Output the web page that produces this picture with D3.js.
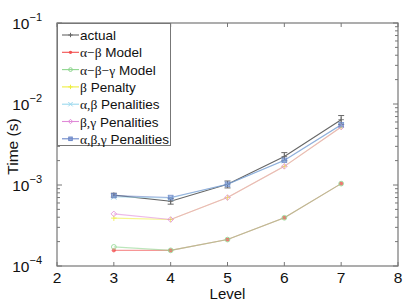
<!DOCTYPE html>
<meta charset="utf-8">
<title>Time vs Level</title>
<script src="https://d3js.org/d3.v7.min.js"></script>
<body style="margin:0; background:#fff;">
<div id="chart"></div>
</body>
<script>
levels = [3, 4, 5, 6, 7]
actual = [7.5e-4, 6.3e-4, 1.02e-3, 2.25e-3, 6.4e-3]
actualErr = [4e-5, 5e-5, 1.0e-4, 2.6e-4, 8e-4]
abModel = [1.56e-4, 1.56e-4, 2.12e-4, 3.94e-4, 1.04e-3]
abgModel = [1.72e-4, 1.56e-4, 2.12e-4, 3.94e-4, 1.04e-3]
bPenalty = [3.9e-4, 3.75e-4, 7.0e-4, 1.7e-3, 5.2e-3]
abPen = [7.1e-4, 6.9e-4, 1.02e-3, 2.0e-3, 5.5e-3]
bgPen = [4.4e-4, 3.75e-4, 7.0e-4, 1.7e-3, 5.2e-3]
abgPen = [7.4e-4, 7.0e-4, 1.02e-3, 2.02e-3, 5.55e-3]

// legend labels, split into [greek part, plain part]
names = [["", "actual"], ["\u03b1\u2212\u03b2", " Model"], ["\u03b1\u2212\u03b2\u2212\u03b3", " Model"],
         ["\u03b2", " Penalty"], ["\u03b1,\u03b2", " Penalities"], ["\u03b2,\u03b3", " Penalities"],
         ["\u03b1,\u03b2,\u03b3", " Penalities"]]
colors = ["#666666", "#f25050", "#8fd68f", "#eeee40", "#9ad8ee", "#e08ad8", "#6a86c8"]
markers = ["plus", "star", "circle", "plus", "cross", "diamond", "square"]
values = [actual, abModel, abgModel, bPenalty, abPen, bgPen, abgPen]

width = 416
height = 302
margin = {left: 57, right: 18, top: 23, bottom: 36}

x = d3.scaleLinear().domain([2, 8]).range([margin.left, width - margin.right])
y = d3.scaleLog().domain([1e-4, 1e-1]).range([height - margin.bottom, margin.top])

svg = d3.select("#chart").append("svg")
    .attr("width", width).attr("height", height)
    .style("font-family", "Liberation Sans, Arial, sans-serif")

axisColor = "#777"

// ticks
xt = [2, 3, 4, 5, 6, 7, 8]
g = svg.append("g").attr("stroke", axisColor).attr("stroke-width", 1)
xt.forEach(t => {
  g.append("line").attr("x1", x(t)).attr("x2", x(t))
    .attr("y1", y(1e-4)).attr("y2", y(1e-4) - 4)
  g.append("line").attr("x1", x(t)).attr("x2", x(t))
    .attr("y1", y(1e-1)).attr("y2", y(1e-1) + 4)
})
majors = [1e-4, 1e-3, 1e-2, 1e-1]
minors = []
for (let d = 1e-4; d < 1e-1; d *= 10) for (let k = 2; k <= 9; k++) minors.push(d * k)
majors.forEach(t => {
  g.append("line").attr("x1", x(2)).attr("x2", x(2) + 5).attr("y1", y(t)).attr("y2", y(t))
  g.append("line").attr("x1", x(8)).attr("x2", x(8) - 5).attr("y1", y(t)).attr("y2", y(t))
})
minors.forEach(t => {
  g.append("line").attr("x1", x(2)).attr("x2", x(2) + 3).attr("y1", y(t)).attr("y2", y(t))
  g.append("line").attr("x1", x(8)).attr("x2", x(8) - 3).attr("y1", y(t)).attr("y2", y(t))
})

svg.append("rect")
    .attr("x", x(2)).attr("y", y(1e-1))
    .attr("width", x(8) - x(2)).attr("height", y(1e-4) - y(1e-1))
    .attr("fill", "none").attr("stroke", axisColor).attr("stroke-width", 1.2)

// tick labels
svg.append("g").selectAll("text").data(xt).join("text")
    .attr("x", d => x(d)).attr("y", y(1e-4) + 17)
    .attr("text-anchor", "middle").attr("font-size", 15.5).attr("fill", "#111")
    .text(d => d)

yl = svg.append("g").selectAll("text").data(majors).join("text")
    .attr("x", x(2) - 15).attr("y", d => y(d) + 6)
    .attr("text-anchor", "end").attr("font-size", 15.5).attr("fill", "#111")
yl.append("tspan").text("10")
yl.append("tspan").attr("dy", -8).attr("font-size", 11).text(d => "\u2212" + Math.round(-Math.log10(d)))

svg.append("text")
    .attr("x", (x(2) + x(8)) / 2).attr("y", height - 3)
    .attr("text-anchor", "middle").attr("font-size", 15).attr("fill", "#111")
    .text("Level")
svg.append("text")
    .attr("transform", `translate(18,${(y(1e-4) + y(1e-1)) / 2 + 2}) rotate(-90)`)
    .attr("text-anchor", "middle").attr("font-size", 15.5).attr("fill", "#111")
    .text("Time (s)")

function drawMarker(sel, type, color, s) {
  if (type == "plus") {
    sel.append("path").attr("d", `M${-s},0H${s}M0,${-s}V${s}`).attr("stroke", color).attr("fill", "none")
  } else if (type == "cross") {
    sel.append("path").attr("d", `M${-s},${-s}L${s},${s}M${-s},${s}L${s},${-s}`).attr("stroke", color).attr("fill", "none")
  } else if (type == "star") {
    sel.append("circle").attr("r", s * 0.75).attr("fill", color)
  } else if (type == "circle") {
    sel.append("circle").attr("r", s * 0.85).attr("fill", "none").attr("stroke", color)
  } else if (type == "diamond") {
    sel.append("path").attr("d", `M0,${-s}L${s},0L0,${s}L${-s},0Z`).attr("fill", "none").attr("stroke", color)
  } else if (type == "square") {
    sel.append("rect").attr("x", -s * 0.8).attr("y", -s * 0.8).attr("width", s * 1.6).attr("height", s * 1.6)
      .attr("fill", color).attr("fill-opacity", 0.6).attr("stroke", color)
  }
}

line = d3.line().x((d, i) => x(levels[i])).y(d => y(d))

plot = svg.append("g")
// error bars for actual
eb = plot.append("g").attr("stroke", colors[0]).attr("stroke-width", 1)
levels.forEach((l, i) => {
  let lo = y(actual[i] - actualErr[i]), hi = y(actual[i] + actualErr[i])
  eb.append("line").attr("x1", x(l)).attr("x2", x(l)).attr("y1", lo).attr("y2", hi)
  eb.append("line").attr("x1", x(l) - 3).attr("x2", x(l) + 3).attr("y1", lo).attr("y2", lo)
  eb.append("line").attr("x1", x(l) - 3).attr("x2", x(l) + 3).attr("y1", hi).attr("y2", hi)
})

values.forEach((v, k) => {
  plot.append("path").attr("d", line(v))
      .attr("fill", "none").attr("stroke", colors[k]).attr("stroke-width", 1.1)
      .attr("stroke-opacity", k == 0 ? 1 : 0.6)
  v.forEach((d, i) => {
    let m = plot.append("g").attr("transform", `translate(${x(levels[i])},${y(d)})`)
      .attr("opacity", 0.8)
    drawMarker(m, markers[k], colors[k], 2.8)
  })
})

// legend
lg = svg.append("g")
lg.append("rect").attr("x", x(2) + 0.5).attr("y", y(1e-1) + 0.5)
    .attr("width", 113).attr("height", 122)
    .attr("fill", "#fff").attr("stroke", axisColor).attr("stroke-width", 1)
names.forEach((n, k) => {
  let yy = 35 + k * 17.3
  lg.append("line").attr("x1", 62).attr("x2", 79).attr("y1", yy).attr("y2", yy)
    .attr("stroke", colors[k]).attr("stroke-width", 1.1)
  let m = lg.append("g").attr("transform", `translate(70.5,${yy})`)
  drawMarker(m, markers[k], colors[k], 2.2)
  let t = lg.append("text").attr("x", 80).attr("y", yy + 5)
    .attr("font-size", 13.5).attr("fill", "#111")
  if (n[0]) t.append("tspan").attr("font-family", "Liberation Serif, Times New Roman, serif").text(n[0])
  t.append("tspan").text(n[1])
})
</script>
